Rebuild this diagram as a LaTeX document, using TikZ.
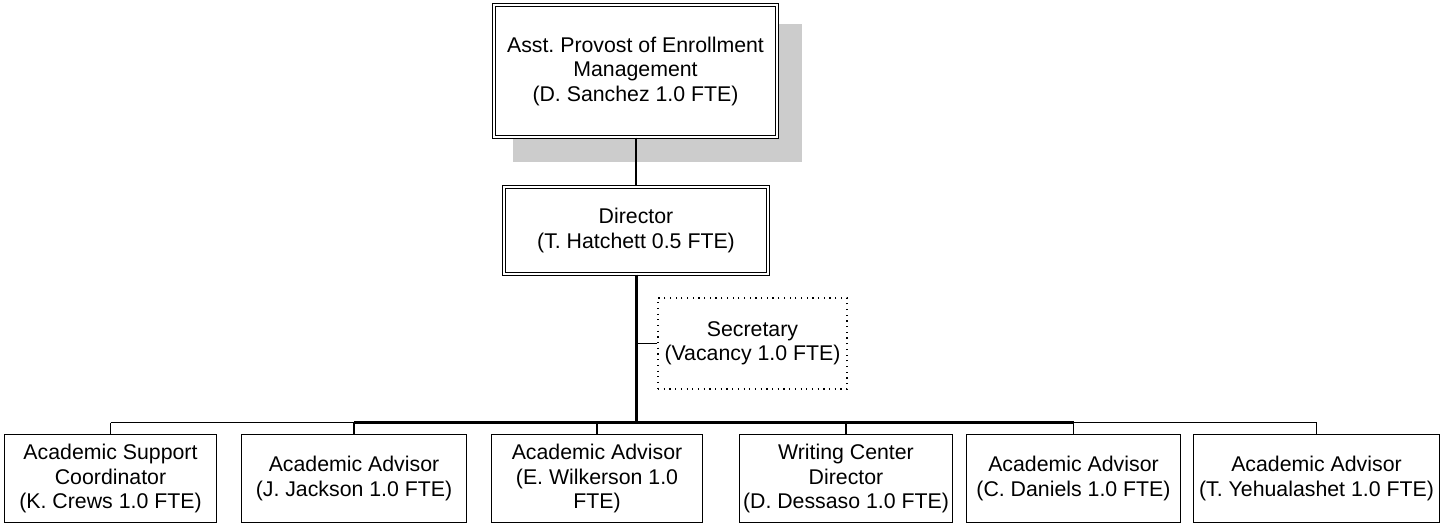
\documentclass[tikz,border=0pt]{standalone}
\usepackage{fontspec}
\setmainfont{Liberation Sans}
\frenchspacing
\begin{document}
\begin{tikzpicture}[x=1pt,y=-1pt,
  txt/.style={font=\fontsize{21.3}{24.5}\selectfont, align=center, inner sep=0pt},
  dbox/.style={txt, draw, fill=white, line width=1.2pt, double, double distance=2pt},
  sbox/.style={txt, draw, fill=white, line width=1.2pt},
  dotbox/.style={txt, draw, line width=1.2pt, dash pattern=on 1.2pt off 4.5pt},
  thin/.style={line width=1.2pt},
  thick2/.style={line width=2.4pt},
  shadowfill/.style={fill=black!20, draw=none}
]
\useasboundingbox (0,0) rectangle (1444,525);
% shadow of top box
\fill[shadowfill] (513,24) rectangle (802,162);
% nodes
\node[dbox, minimum width=283pt, minimum height=132pt] (top) at (635.5,71)
  {Asst. Provost of Enrollment\\Management\\(D. Sanchez 1.0 FTE)};
\node[dbox, minimum width=264pt, minimum height=87pt] (dir) at (636,230.5)
  {Director\\(T. Hatchett 0.5 FTE)};
\node[dotbox, minimum width=189pt, minimum height=91pt] (sec) at (752.5,343.5)
  {Secretary\\(Vacancy 1.0 FTE)};
\node[sbox, minimum width=212pt, minimum height=88pt] (b1) at (110.5,478.5)
  {Academic Support\\Coordinator\\(K. Crews 1.0 FTE)};
\node[sbox, minimum width=225pt, minimum height=88pt] (b2) at (354,478.5)
  {Academic Advisor\\(J. Jackson 1.0 FTE)};
\node[sbox, minimum width=211pt, minimum height=88pt] (b3) at (597,478.5)
  {Academic Advisor\\(E. Wilkerson 1.0\\FTE)};
\node[sbox, minimum width=213pt, minimum height=88pt] (b4) at (846,478.5)
  {Writing Center\\Director\\(D. Dessaso 1.0 FTE)};
\node[sbox, minimum width=214pt, minimum height=88pt] (b5) at (1073.5,478.5)
  {Academic Advisor\\(C. Daniels 1.0 FTE)};
\node[sbox, minimum width=246pt, minimum height=88pt] (b6) at (1316.5,478.5)
  {Academic Advisor\\(T. Yehualashet 1.0 FTE)};
\coordinate (bus) at (636.5,422.5);
% connectors
\draw[thin] (top.south -| dir.north) -- (dir.north);
\draw[thin] (sec.west) -- (sec.west -| bus);
\draw[thin] (b1.north |- bus) -- (b6.north |- bus);
\foreach \b in {b1,b2,b3,b4,b5,b6} \draw[thin] (\b.north |- bus) -- (\b.north);
\draw[thick2] (b2.north |- bus) -- (b5.north |- bus);
\draw[thick2] (dir.south -| bus) -- (bus);
\end{tikzpicture}
\end{document}
